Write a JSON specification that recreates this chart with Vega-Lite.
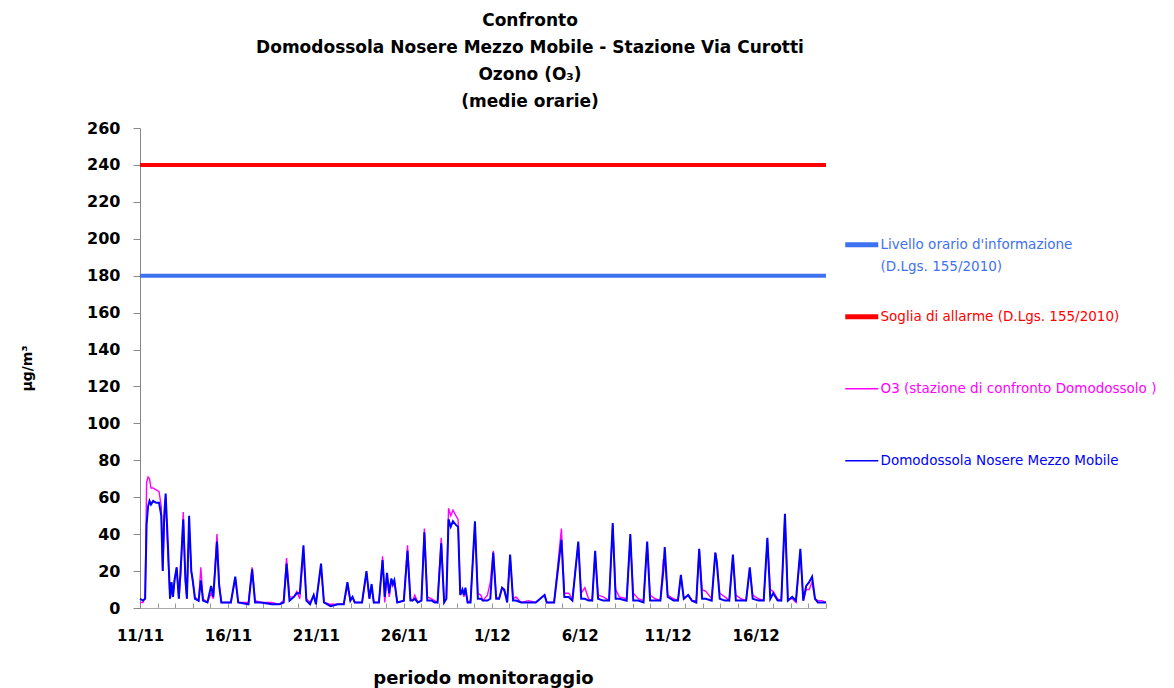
{
"$schema": "https://vega.github.io/schema/vega-lite/v6.json",
"width": 686, "height": 480,
"autosize": {"type": "none"},
"padding": {"left": 140, "top": 128, "right": 348, "bottom": 80},
"background": "white",
"title": {"text": ["Confronto", "Domodossola Nosere Mezzo Mobile - Stazione Via Curotti", "Ozono (O₃)", "(medie orarie)"], "font": "DejaVu Sans", "fontSize": 17, "fontWeight": "bold", "lineHeight": 27, "anchor": "middle", "frame": "group", "dx": 47, "offset": 9, "color": "black"},
"config": {"view": {"stroke": null}, "axis": {"grid": false}},
"datasets": {"o3": [
{"t":"2010-11-11T00:00Z","a":3,"b":5},{"t":"2010-11-11T04:00Z","a":3,"b":4},{"t":"2010-11-11T07:00Z","a":6,"b":5},{"t":"2010-11-11T09:00Z","a":68,"b":45},{"t":"2010-11-11T11:00Z","a":71,"b":55},{"t":"2010-11-11T13:00Z","a":70,"b":58},{"t":"2010-11-11T15:00Z","a":65,"b":56},{"t":"2010-11-11T18:00Z","a":65,"b":58},{"t":"2010-11-11T22:00Z","a":64,"b":57},
{"t":"2010-11-12T02:00Z","a":63,"b":57},{"t":"2010-11-12T05:00Z","a":55,"b":50},{"t":"2010-11-12T07:00Z","a":20,"b":20},{"t":"2010-11-12T09:00Z","a":45,"b":50},{"t":"2010-11-12T11:00Z","a":60,"b":62},{"t":"2010-11-12T14:00Z","a":30,"b":35},{"t":"2010-11-12T17:00Z","a":5,"b":5},{"t":"2010-11-12T19:00Z","a":12,"b":14},{"t":"2010-11-12T21:00Z","a":6,"b":6},{"t":"2010-11-12T23:00Z","a":14,"b":15},
{"t":"2010-11-13T02:00Z","a":22,"b":22},{"t":"2010-11-13T05:00Z","a":5,"b":5},{"t":"2010-11-13T08:00Z","a":20,"b":25},{"t":"2010-11-13T11:00Z","a":52,"b":48},{"t":"2010-11-13T14:00Z","a":15,"b":15},{"t":"2010-11-13T16:00Z","a":5,"b":5},{"t":"2010-11-13T19:00Z","a":45,"b":50},{"t":"2010-11-13T22:00Z","a":20,"b":20},
{"t":"2010-11-14T00:00Z","a":14,"b":15},{"t":"2010-11-14T03:00Z","a":6,"b":5},{"t":"2010-11-14T08:00Z","a":4,"b":4},{"t":"2010-11-14T11:00Z","a":22,"b":15},{"t":"2010-11-14T14:00Z","a":5,"b":4},{"t":"2010-11-14T20:00Z","a":3,"b":3},
{"t":"2010-11-15T01:00Z","a":8,"b":12},{"t":"2010-11-15T04:00Z","a":5,"b":6},{"t":"2010-11-15T09:00Z","a":40,"b":36},{"t":"2010-11-15T12:00Z","a":14,"b":12},{"t":"2010-11-15T15:00Z","a":3,"b":3},
{"t":"2010-11-16T04:00Z","a":3,"b":3},{"t":"2010-11-16T10:00Z","a":16,"b":17},{"t":"2010-11-16T14:00Z","a":3,"b":3},
{"t":"2010-11-17T04:00Z","a":3,"b":2},{"t":"2010-11-17T09:00Z","a":22,"b":21},{"t":"2010-11-17T13:00Z","a":4,"b":3},{"t":"2010-11-17T21:00Z","a":3,"b":3},
{"t":"2010-11-18T12:00Z","a":3,"b":2},{"t":"2010-11-18T22:00Z","a":2,"b":2},
{"t":"2010-11-19T04:00Z","a":4,"b":3},{"t":"2010-11-19T08:00Z","a":27,"b":24},{"t":"2010-11-19T12:00Z","a":6,"b":4},{"t":"2010-11-19T18:00Z","a":6,"b":6},{"t":"2010-11-19T22:00Z","a":9,"b":8},
{"t":"2010-11-20T02:00Z","a":5,"b":8},{"t":"2010-11-20T07:00Z","a":30,"b":34},{"t":"2010-11-20T11:00Z","a":5,"b":4},{"t":"2010-11-20T16:00Z","a":3,"b":2},{"t":"2010-11-20T21:00Z","a":7,"b":7},
{"t":"2010-11-21T00:00Z","a":3,"b":2},{"t":"2010-11-21T07:00Z","a":22,"b":24},{"t":"2010-11-21T11:00Z","a":3,"b":3},{"t":"2010-11-21T20:00Z","a":2,"b":1},
{"t":"2010-11-22T06:00Z","a":2,"b":2},{"t":"2010-11-22T14:00Z","a":2,"b":2},{"t":"2010-11-22T19:00Z","a":12,"b":14},{"t":"2010-11-22T23:00Z","a":4,"b":4},
{"t":"2010-11-23T02:00Z","a":6,"b":6},{"t":"2010-11-23T05:00Z","a":3,"b":3},{"t":"2010-11-23T15:00Z","a":3,"b":3},{"t":"2010-11-23T21:00Z","a":19,"b":20},
{"t":"2010-11-24T01:00Z","a":5,"b":5},{"t":"2010-11-24T04:00Z","a":11,"b":13},{"t":"2010-11-24T07:00Z","a":3,"b":3},{"t":"2010-11-24T14:00Z","a":3,"b":3},{"t":"2010-11-24T19:00Z","a":28,"b":26},{"t":"2010-11-24T22:00Z","a":3,"b":6},
{"t":"2010-11-25T01:00Z","a":18,"b":19},{"t":"2010-11-25T04:00Z","a":6,"b":8},{"t":"2010-11-25T07:00Z","a":15,"b":16},{"t":"2010-11-25T09:00Z","a":12,"b":13},{"t":"2010-11-25T11:00Z","a":15,"b":15},{"t":"2010-11-25T15:00Z","a":3,"b":3},
{"t":"2010-11-26T00:00Z","a":4,"b":4},{"t":"2010-11-26T05:00Z","a":34,"b":31},{"t":"2010-11-26T09:00Z","a":5,"b":4},{"t":"2010-11-26T12:00Z","a":4,"b":4},{"t":"2010-11-26T15:00Z","a":7,"b":5},{"t":"2010-11-26T19:00Z","a":3,"b":3},
{"t":"2010-11-27T00:00Z","a":4,"b":4},{"t":"2010-11-27T04:00Z","a":43,"b":41},{"t":"2010-11-27T08:00Z","a":6,"b":4},{"t":"2010-11-27T14:00Z","a":5,"b":4},{"t":"2010-11-27T18:00Z","a":4,"b":3},{"t":"2010-11-27T22:00Z","a":3,"b":3},
{"t":"2010-11-28T03:00Z","a":38,"b":35},{"t":"2010-11-28T07:00Z","a":3,"b":3},{"t":"2010-11-28T10:00Z","a":5,"b":5},{"t":"2010-11-28T13:00Z","a":54,"b":48},{"t":"2010-11-28T16:00Z","a":50,"b":44},{"t":"2010-11-28T19:00Z","a":53,"b":47},{"t":"2010-11-28T23:00Z","a":50,"b":45},
{"t":"2010-11-29T02:00Z","a":48,"b":44},{"t":"2010-11-29T05:00Z","a":8,"b":7},{"t":"2010-11-29T08:00Z","a":9,"b":10},{"t":"2010-11-29T10:00Z","a":6,"b":7},{"t":"2010-11-29T12:00Z","a":10,"b":11},{"t":"2010-11-29T15:00Z","a":3,"b":3},{"t":"2010-11-29T19:00Z","a":4,"b":3},
{"t":"2010-11-30T01:00Z","a":45,"b":47},{"t":"2010-11-30T05:00Z","a":8,"b":5},{"t":"2010-11-30T09:00Z","a":7,"b":5},{"t":"2010-11-30T12:00Z","a":4,"b":4},{"t":"2010-11-30T18:00Z","a":7,"b":4},{"t":"2010-11-30T22:00Z","a":14,"b":5},
{"t":"2010-12-01T02:00Z","a":31,"b":30},{"t":"2010-12-01T06:00Z","a":6,"b":5},{"t":"2010-12-01T10:00Z","a":5,"b":5},{"t":"2010-12-01T14:00Z","a":11,"b":11},{"t":"2010-12-01T17:00Z","a":9,"b":10},{"t":"2010-12-01T21:00Z","a":4,"b":3},
{"t":"2010-12-02T01:00Z","a":28,"b":29},{"t":"2010-12-02T05:00Z","a":5,"b":4},{"t":"2010-12-02T09:00Z","a":6,"b":4},{"t":"2010-12-02T16:00Z","a":3,"b":3},
{"t":"2010-12-03T02:00Z","a":4,"b":3},{"t":"2010-12-03T12:00Z","a":3,"b":3},
{"t":"2010-12-04T00:00Z","a":7,"b":7},{"t":"2010-12-04T03:00Z","a":3,"b":3},{"t":"2010-12-04T13:00Z","a":3,"b":3},{"t":"2010-12-04T23:00Z","a":43,"b":37},
{"t":"2010-12-05T03:00Z","a":8,"b":6},{"t":"2010-12-05T09:00Z","a":8,"b":6},{"t":"2010-12-05T14:00Z","a":5,"b":4},{"t":"2010-12-05T22:00Z","a":35,"b":36},
{"t":"2010-12-06T02:00Z","a":8,"b":5},{"t":"2010-12-06T07:00Z","a":11,"b":5},{"t":"2010-12-06T12:00Z","a":5,"b":4},{"t":"2010-12-06T17:00Z","a":4,"b":4},{"t":"2010-12-06T21:00Z","a":30,"b":31},
{"t":"2010-12-07T01:00Z","a":7,"b":5},{"t":"2010-12-07T08:00Z","a":6,"b":4},{"t":"2010-12-07T16:00Z","a":4,"b":4},{"t":"2010-12-07T21:00Z","a":45,"b":46},
{"t":"2010-12-08T01:00Z","a":10,"b":5},{"t":"2010-12-08T06:00Z","a":6,"b":5},{"t":"2010-12-08T16:00Z","a":5,"b":4},{"t":"2010-12-08T21:00Z","a":38,"b":40},
{"t":"2010-12-09T01:00Z","a":8,"b":4},{"t":"2010-12-09T08:00Z","a":5,"b":4},{"t":"2010-12-09T15:00Z","a":4,"b":3},{"t":"2010-12-09T20:00Z","a":35,"b":36},
{"t":"2010-12-10T00:00Z","a":7,"b":4},{"t":"2010-12-10T07:00Z","a":5,"b":4},{"t":"2010-12-10T14:00Z","a":4,"b":4},{"t":"2010-12-10T18:00Z","a":26,"b":20},{"t":"2010-12-10T20:00Z","a":26,"b":33},
{"t":"2010-12-11T00:00Z","a":7,"b":6},{"t":"2010-12-11T08:00Z","a":5,"b":4},{"t":"2010-12-11T14:00Z","a":4,"b":4},{"t":"2010-12-11T18:00Z","a":17,"b":18},{"t":"2010-12-11T22:00Z","a":5,"b":5},
{"t":"2010-12-12T04:00Z","a":7,"b":7},{"t":"2010-12-12T09:00Z","a":4,"b":4},{"t":"2010-12-12T15:00Z","a":4,"b":3},{"t":"2010-12-12T19:00Z","a":32,"b":32},{"t":"2010-12-12T23:00Z","a":10,"b":5},
{"t":"2010-12-13T04:00Z","a":9,"b":5},{"t":"2010-12-13T12:00Z","a":5,"b":4},{"t":"2010-12-13T17:00Z","a":30,"b":30},{"t":"2010-12-13T19:00Z","a":25,"b":25},{"t":"2010-12-13T23:00Z","a":8,"b":5},
{"t":"2010-12-14T06:00Z","a":6,"b":4},{"t":"2010-12-14T12:00Z","a":4,"b":4},{"t":"2010-12-14T17:00Z","a":28,"b":29},{"t":"2010-12-14T21:00Z","a":7,"b":4},
{"t":"2010-12-15T04:00Z","a":5,"b":4},{"t":"2010-12-15T11:00Z","a":4,"b":4},{"t":"2010-12-15T16:00Z","a":21,"b":22},{"t":"2010-12-15T20:00Z","a":7,"b":5},
{"t":"2010-12-16T04:00Z","a":5,"b":4},{"t":"2010-12-16T11:00Z","a":4,"b":4},{"t":"2010-12-16T16:00Z","a":37,"b":38},{"t":"2010-12-16T20:00Z","a":10,"b":5},
{"t":"2010-12-17T00:00Z","a":9,"b":8},{"t":"2010-12-17T06:00Z","a":5,"b":4},{"t":"2010-12-17T11:00Z","a":4,"b":4},{"t":"2010-12-17T16:00Z","a":50,"b":51},{"t":"2010-12-17T20:00Z","a":5,"b":4},
{"t":"2010-12-18T02:00Z","a":5,"b":6},{"t":"2010-12-18T07:00Z","a":3,"b":4},{"t":"2010-12-18T13:00Z","a":30,"b":32},{"t":"2010-12-18T17:00Z","a":4,"b":4},{"t":"2010-12-18T21:00Z","a":10,"b":12},
{"t":"2010-12-19T01:00Z","a":10,"b":14},{"t":"2010-12-19T05:00Z","a":14,"b":17},{"t":"2010-12-19T09:00Z","a":5,"b":5},{"t":"2010-12-19T13:00Z","a":4,"b":3},{"t":"2010-12-19T18:00Z","a":4,"b":3},
{"t":"2010-12-20T00:00Z","a":3,"b":3}
]},
"encoding": {
  "y": {"field": "v", "type": "quantitative", "scale": {"domain": [0, 260], "nice": false},
   "axis": {"values": [0,20,40,60,80,100,120,140,160,180,200,220,240,260], "labelOverlap": false, "title": "µg/m³", "titleFont": "DejaVu Sans", "titleFontSize": 14, "titleFontWeight": "bold", "titleColor": "black", "titlePadding": 52, "labelFont": "DejaVu Sans", "labelFontSize": 16, "labelFontWeight": "bold", "labelColor": "black", "tickSize": 7, "tickColor": "#888888", "domainColor": "#888888", "labelPadding": 13}},
  "color": {"field": "serie", "type": "nominal",
   "scale": {"domain": ["L", "S", "a", "b"], "range": ["#3f72f0", "#ff0000", "#ff00ff", "#0000ff"]},
   "legend": {"orient": "none", "legendX": 715, "legendY": 110, "title": null, "padding": 0, "gridAlign": "all", "symbolType": "stroke", "symbolSize": 1089, "labelOffset": 12, "rowPadding": 32, "labelFont": "DejaVu Sans", "labelFontSize": 13.5, "labelLimit": 400,
    "labelExpr": "datum.value === 'L' ? [\"Livello orario d'informazione\", \"(D.Lgs. 155/2010)\"] : datum.value === 'S' ? 'Soglia di allarme (D.Lgs. 155/2010)' : datum.value === 'a' ? 'O3  (stazione di confronto Domodossolo )' : 'Domodossola Nosere Mezzo Mobile'",
    "encode": {"symbols": {"update": {"strokeWidth": {"signal": "datum.value === 'L' || datum.value === 'S' ? 5 : 1.5"}}},
               "labels": {"update": {"fill": {"scale": "color", "field": "value"}, "lineHeight": {"value": 22}}}}}}
},
"layer": [
{"data": {"values": [{"serie": "L", "v": 180}, {"serie": "S", "v": 240}]},
 "mark": {"type": "rule", "strokeWidth": 4}
},
{"data": {"name": "o3"},
 "transform": [{"fold": ["a"], "as": ["serie", "v"]}],
 "mark": {"type": "line", "strokeWidth": 1.4},
 "encoding": {
  "x": {"field": "t", "type": "temporal",
   "scale": {"type": "utc", "domain": [{"year": 2010, "month": 11, "date": 11, "utc": true}, {"year": 2010, "month": 12, "date": 20, "utc": true}]},
   "axis": {"title": "periodo monitoraggio", "titleFont": "DejaVu Sans", "titleFontSize": 18, "titleFontWeight": "bold", "titleColor": "black", "titlePadding": 26, "labelFont": "DejaVu Sans", "labelFontSize": 15, "labelFontWeight": "bold", "labelColor": "black", "tickSize": -5, "labelPadding": 25, "tickColor": "#999999", "domainColor": "#aaaaaa", "tickCount": {"interval": "day", "step": 1}, "labelOverlap": false, "labelFlush": false,
    "labelExpr": "indexof(['11/11','16/11','21/11','26/11','1/12','6/12','11/12','16/12'], utcFormat(datum.value, '%-d/%m')) >= 0 ? utcFormat(datum.value, '%-d/%m') : ''"}}
 }},
{"data": {"name": "o3"},
 "transform": [{"fold": ["b"], "as": ["serie", "v"]}],
 "mark": {"type": "line", "strokeWidth": 2},
 "encoding": {
  "x": {"field": "t", "type": "temporal"}
 }}
]
}
